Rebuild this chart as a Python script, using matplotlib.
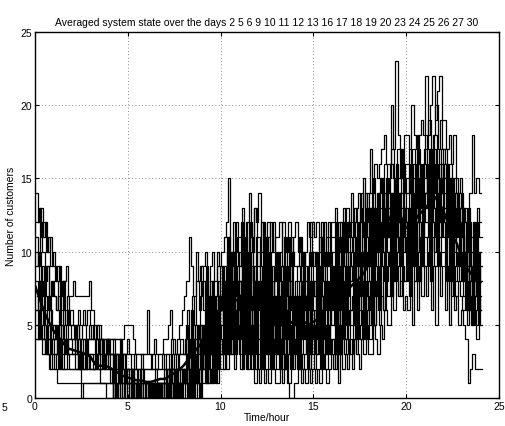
import matplotlib
matplotlib.use("Agg")
import matplotlib.pyplot as plt
import numpy as np

DAYS = [2, 5, 6, 9, 10, 11, 12, 13, 16, 17, 18, 19, 20, 23, 24, 25, 26, 27, 30]

SAMPLE_STEP = 0.125   # hours between two samples of a day trace
MEAN_STEP = 0.25      # hours between two samples of the averaged curve

# customers in the system, one base-36 char per sample (a=10, b=11, ...),
# one group of 8 samples per hour
DAY_TRACES = [
    "44444444 44444444 44444444 44444444 44444333 33333333 "
    "33222222 22222233 33434454 54657657 67586798 86978978 "
    "78696786 75786786 67576767 76876878 87987989 98a98a9a "
    "ab9bcacb dcecdecd cdbecded efdgefeg fefdecdc ba989878",

    "45443322 21111111 11111111 11111111 10101011 01010100 "
    "10101001 01010110 10212122 23123123 34253464 24324312 "
    "13121321 12121001 12121212 12132123 23132324 24324353 "
    "35435465 58697867 69586979 7a695a79 69586756 54123222",

    "64534323 23222222 22222222 22221111 11111111 11110000 "
    "00000100 01001011 12101210 31421314 42536435 52435243 "
    "24253424 32423132 42322423 23424253 42535343 36354646 "
    "47585768 a7b8a798 a7a8a8b9 9b8b9b9a a8979787 67575646",

    "56453433 32322322 22201111 11111100 01010010 01001001 "
    "10100101 01011011 10120121 13213242 25364253 35263524 "
    "52534252 24324253 25235245 35253534 36354636 74646475 "
    "85869697 7a8b9b8b 8b9b8b9c c9cacacb 9b8a8a89 86757575",

    "67565434 34323433 32322232 22322232 12112112 10110110 "
    "01101011 11011121 21203124 24135246 64738564 63647368 "
    "36472636 45263525 54354363 63545347 74637465 58475868 "
    "6a797a8b b8cac9ca c9cadacb bdadbdbd c9c9b9a9 79686786",

    "78654545 43434333 33232332 23223223 30313021 02010201 "
    "01020102 02102102 12031203 41352463 36473658 47385746 "
    "74637473 63646347 36473654 46364765 57475758 95869687 "
    "a7b8b9ca 9cadbdac adbcadbe ebececec bdacac9b 97869869",

    "86867564 45354344 34323323 32332322 22121221 11111111 "
    "11111111 12121222 13231425 25362537 73857496 84759684 "
    "47385965 37538475 73647537 84757476 95868596 696a7a7a "
    "8c9cacad cadbecbd dadbecec dfcfdfcf ebdbdbca 8a7a8797",

    "9a786765 54645454 43433433 33433233 23223212 12112111 "
    "11101111 11112122 23142342 52637463 48695847 596a7597 "
    "85948647 74864764 47586486 58486859 69596979 a7b8a9b9 "
    "c9cadbec becfcedc cfbecfdf gdgegefe dfcecdbc a8b97a8a",

    "a8979687 67565655 45434344 43343343 32322322 21211211 "
    "11111111 21212222 24352453 36473685 85a6957a 96a7b86a "
    "695a758a 59486a58 85a7586a 9697a68a a7b8a7a8 8b9c8c9d "
    "adbebdce ecfdegcf fcfdgege fhehfgeh gdfcecdc 9ba8b9a8",

    "b9ca8978 76868565 54545545 45434334 33232332 22222222 "
    "22222333 33323333 35264537 84738574 597b6a86 7b8c6a8b "
    "b7a6c896 a69597b6 698697a8 7a6b89b8 8b7b9c8c c9cadaeb "
    "ebdcefdf dgfehfge ehdgehfg ifhgifhg fgefdecd bd9cac9c",

    "cdbcab9a 89786766 55656565 54544343 34334334 32322322 "
    "22322232 32432343 46375869 69584796 96b8a7c9 c8b9cad9 "
    "9c8b7ac8 8ac7b8a9 9b7a89c9 a8b9ca9c c9cadaca bdacebdc "
    "dfcefdge fhegfheg gehfigfh hjgikhjh hfgefede cadbcadb",

    "ecdbcab9 98978977 87777778 65554444 44444455 55433333 "
    "63343334 45643456 78b97a89 9a79a8a9 abcf9cab bdacebdc "
    "eac9bcab bc9bac9b cab9acbc bcac9bcb bdacbcdb ecdecfde "
    "hegfghig gkhnihgi ihkihiji mikmjlmj jhigifef dcbeiefe",
]

# minutes after midnight of the first sample of each trace
TRACE_START_MIN = [0.0, 4.1, 1.6, 6.2, 2.7, 5.3, 0.9, 3.4, 6.8, 1.2, 4.7, 2.2]

MEAN_CUSTOMERS = [
    7.7, 6.8, 5.9, 5.2, 4.6, 4.2, 3.8, 3.4, 3.3, 3.2, 3.1, 3.0,
    2.8, 2.3, 2.2, 2.2, 2.1, 1.9, 1.7, 1.5, 1.4, 1.3, 1.2, 1.2,
    1.1, 1.1, 1.2, 1.3, 1.3, 1.5, 1.7, 1.9, 2.2, 2.6, 3.0, 3.4,
    3.8, 4.3, 4.9, 5.4, 6.0, 6.6, 7.0, 6.6, 6.8, 7.2, 6.9, 6.5,
    6.6, 6.2, 6.0, 5.8, 5.9, 5.5, 5.6, 5.1, 5.3, 5.5, 5.2, 5.0,
    5.2, 5.4, 5.9, 6.3, 6.6, 6.9, 6.7, 7.0, 7.6, 7.9, 8.2, 8.6,
    9.2, 9.8, 10.6, 11.5, 12.0, 12.6, 13.1, 12.3, 11.6, 11.9, 12.2, 12.6,
    12.9, 13.3, 13.8, 13.4, 12.8, 12.0, 11.1, 10.5, 9.6, 8.9, 8.5, 8.1,
    7.9,
]


def decode(trace) :
    groups = trace.split()
    bad = [i for i, g in enumerate(groups) if len(g) != 8]
    if len(groups) != 24 or bad :
        raise ValueError("bad trace groups %s in %s" % (bad, trace[:20]))
    return [int(c, 36) for c in "".join(groups)]


def main() :
    plt.rcParams['font.family'] = ['Liberation Sans', 'DejaVu Sans']
    plt.rcParams['font.size'] = 7.5

    fig = plt.figure(figsize=(5.06, 4.27), dpi=100)
    ax = fig.add_axes([0.069, 0.0656, 0.917, 0.857])

    for trace, start in zip(DAY_TRACES, TRACE_START_MIN) :
        vals = decode(trace)
        vals.append(vals[-1])
        t = start / 60 + np.arange(len(vals)) * SAMPLE_STEP
        ax.step(t, vals, where='post', color='k', lw=0.9)

    t_mean = np.arange(len(MEAN_CUSTOMERS)) * MEAN_STEP
    ax.plot(t_mean, MEAN_CUSTOMERS, color='k', lw=1.8, zorder=5)

    ax.set_xlim(0, 25)
    ax.set_ylim(0, 25)
    ax.set_xticks(range(0, 26, 5))
    ax.set_yticks(range(0, 26, 5))
    ax.tick_params(direction='in', top=True, right=True, length=3, width=0.8, pad=2)
    ax.grid(True, linestyle=(0, (1, 3)), color='0.4', lw=0.6)
    for s in ax.spines.values() :
        s.set_linewidth(1)

    ax.set_title("Averaged system state over the days " + " ".join(str(d) for d in DAYS),
                 fontsize=7.5, pad=5)
    ax.set_xlabel("Time/hour", labelpad=1)
    ax.set_ylabel("Number of customers", labelpad=3)
    fig.text(4 / 506, 1 - 408 / 427, "5", ha='center', va='center')

    fig.savefig("out.png", dpi=100)


if __name__ == "__main__" :
    main()
